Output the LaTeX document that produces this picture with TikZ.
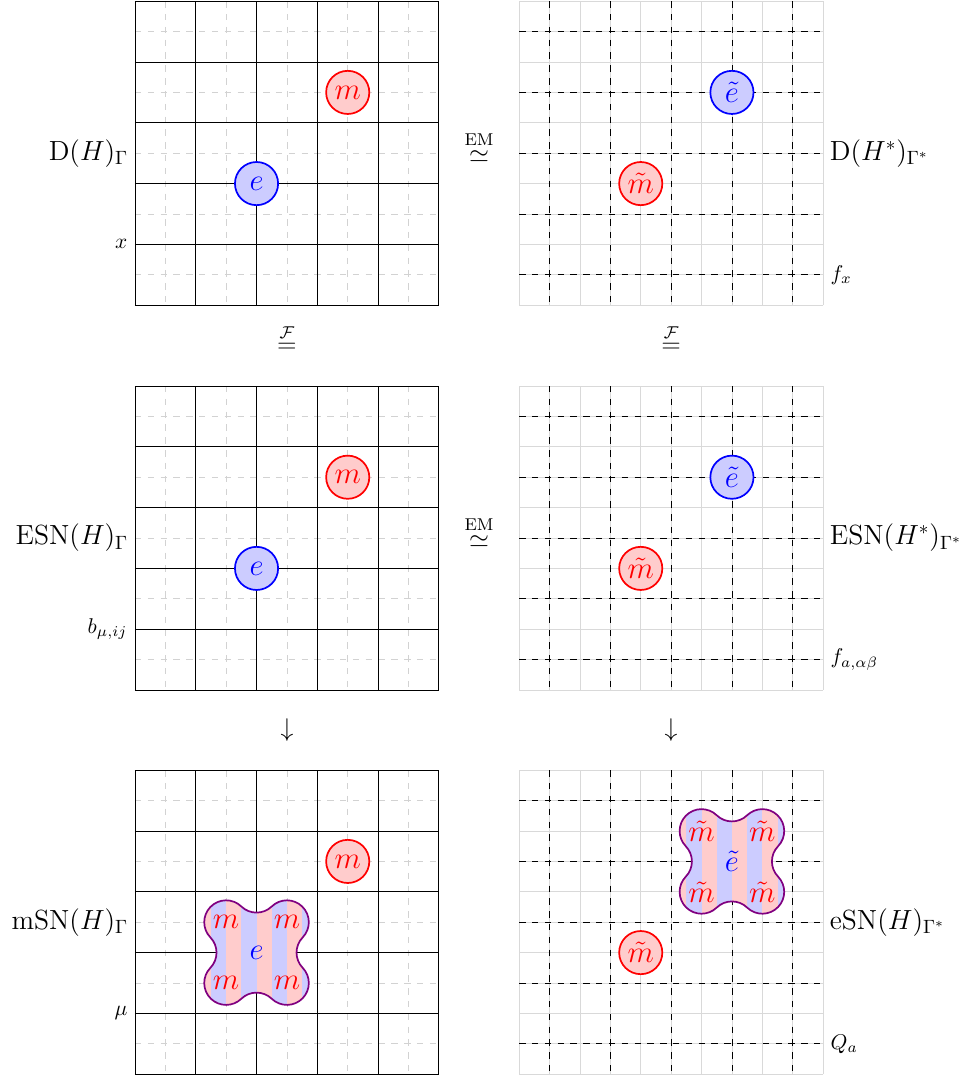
\documentclass[tikz,border=0pt]{standalone}
\usepackage{amsmath,amssymb}
\usepackage{xcolor}
\usepackage{tikz}
\usetikzlibrary{positioning, calc}

% Outline of the four-lobed composite excitation (centred at the origin)
\newcommand{\lobepath}{%
    ([shift={(-44:0.36)}]0.5,0.5)
    arc[start angle=-44, end angle=134, radius=0.36]
    arc[start angle=-46, end angle=-134, radius=0.36]
    arc[start angle=46, end angle=224, radius=0.36]
    arc[start angle=44, end angle=-44, radius=0.36]
    arc[start angle=136, end angle=314, radius=0.36]
    arc[start angle=134, end angle=46, radius=0.36]
    arc[start angle=226, end angle=404, radius=0.36]
    arc[start angle=224, end angle=136, radius=0.36] -- cycle}

\begin{document}
\begin{tikzpicture}[
        % Style for the excitation circles
        particle/.style={
            draw,
            circle,
            thick,
            minimum size=0.71cm,
            inner sep=0pt,
            font=\Large
        },
        echarge/.style={particle, draw=blue, fill=blue!20, text=blue},
        mflux/.style={particle, draw=red, fill=red!20, text=red},
        % Style for the labels inside the composite blob
        blobtext/.style={inner sep=0pt, font=\Large},
        % Style for the panel names and the edge labels
        rowlabel/.style={font=\Large, scale=0.9, transform shape},
        edgelabel/.style={font=\normalsize},
        % Style for the maps between the panels
        maplabel/.style={font=\large, inner sep=0pt},
        % Lattice lines
        primal/.style={black},
        primalhalf/.style={gray!35, dashed},
        dualfine/.style={gray!30},
        dualdash/.style={black, dashed}
    ]

    \useasboundingbox (-2.22,0.02) rectangle (13.67,-17.68);

    % ==========================================
    % LATTICES AND PANEL LABELS
    % ==========================================
    \foreach \row/\ytop/\lname/\rname/\lsmall/\rsmall in {
        1/0/{$\mathrm{D}(H)_\Gamma$}/{$\mathrm{D}(H^*)_{\Gamma^*}$}/{$x$}/{$f_x$},
        2/-6.33/{$\mathrm{ESN}(H)_\Gamma$}/{$\mathrm{ESN}(H^*)_{\Gamma^*}$}/{$b_{\mu,ij}$}/{$f_{a,\alpha\beta}$},
        3/-12.65/{$\mathrm{mSN}(H)_\Gamma$}/{$\mathrm{eSN}(H)_{\Gamma^*}$}/{$\mu$}/{$Q_a$}} {
        % primal lattice (left)
        \begin{scope}[shift={(0,\ytop)}]
            \foreach \t in {0.5,1.5,...,4.5} {
                \draw[primalhalf] (\t,0) -- (\t,-5);
                \draw[primalhalf] (0,-\t) -- (5,-\t);
            }
            \draw[primal] (0,-5) grid (5,0);
            \node[rowlabel, anchor=east] (L\row) at (0,-2.5) {\lname};
            \node[edgelabel, anchor=east] (l\row) at (0,-4) {\lsmall};
        \end{scope}
        % dual lattice (right)
        \begin{scope}[shift={(6.32,\ytop)}]
            \draw[dualfine, step=0.5] (0,-5) grid (5,0);
            \foreach \t in {0.5,1.5,...,4.5} {
                \draw[dualdash] (\t,0) -- (\t,-5);
                \draw[dualdash] (0,-\t) -- (5,-\t);
            }
            \node[rowlabel, anchor=west] (R\row) at (5,-2.5) {\rname};
            \node[edgelabel, anchor=west] (r\row) at (5,-4.5) {\rsmall};
        \end{scope}
    }

    % ==========================================
    % SINGLE EXCITATIONS (rows 1 and 2)
    % ==========================================
    \foreach \row/\ytop in {1/0, 2/-6.33} {
        \begin{scope}[shift={(0,\ytop)}]
            \node[mflux] (m\row) at (3.5,-1.5) {$m$};
            \node[echarge] (e\row) at (2,-3) {$e$};
        \end{scope}
        \begin{scope}[shift={(6.32,\ytop)}]
            \node[echarge] (et\row) at (3.5,-1.5) {$\tilde{e}$};
            \node[mflux] (mt\row) at (2,-3) {$\tilde{m}$};
        \end{scope}
        \node[maplabel] (em\row) at (5.66,\ytop-2.4) {$\overset{\text{EM}}{\simeq}$};
    }

    % ==========================================
    % ROW 3: CONDENSED COMPOSITES
    % ==========================================
    \node[mflux] (m3) at (3.5,-14.15) {$m$};
    \node[mflux] (mt3) at (8.32,-15.65) {$\tilde{m}$};

    \foreach \name/\cx/\cy/\inner/\outer/\ic/\oc in {
        mblob/2/-15.65/{$e$}/{$m$}/blue/red,
        eblob/9.82/-14.15/{$\tilde{e}$}/{$\tilde{m}$}/blue/red} {
        \begin{scope}[shift={(\cx,\cy)}]
            \begin{scope}
                \clip \lobepath;
                \foreach \s in {-1,-0.5,...,1} {
                    \fill[blue!20] (\s-0.25,-1.1) rectangle (\s,1.1);
                    \fill[red!20] (\s,-1.1) rectangle (\s+0.25,1.1);
                }
            \end{scope}
            \draw[violet, thick] \lobepath;
            \node[blobtext, text=\ic] (\name-c) at (0,0) {\inner};
            \node[blobtext, text=\oc] (\name-nw) at (-0.5,0.5) {\outer};
            \node[blobtext, text=\oc] (\name-ne) at (0.5,0.5) {\outer};
            \node[blobtext, text=\oc] (\name-sw) at (-0.5,-0.5) {\outer};
            \node[blobtext, text=\oc] (\name-se) at (0.5,-0.5) {\outer};
        \end{scope}
    }

    % ==========================================
    % MAPS BETWEEN THE ROWS
    % ==========================================
    \node[maplabel] (fl) at (2.5,-5.55) {$\overset{\mathcal{F}}{=}$};
    \node[maplabel] (fr) at (8.82,-5.55) {$\overset{\mathcal{F}}{=}$};
    \node[maplabel] (dl) at (2.5,-11.99) {$\downarrow$};
    \node[maplabel] (dr) at (8.82,-11.99) {$\downarrow$};

\end{tikzpicture}
\end{document}
